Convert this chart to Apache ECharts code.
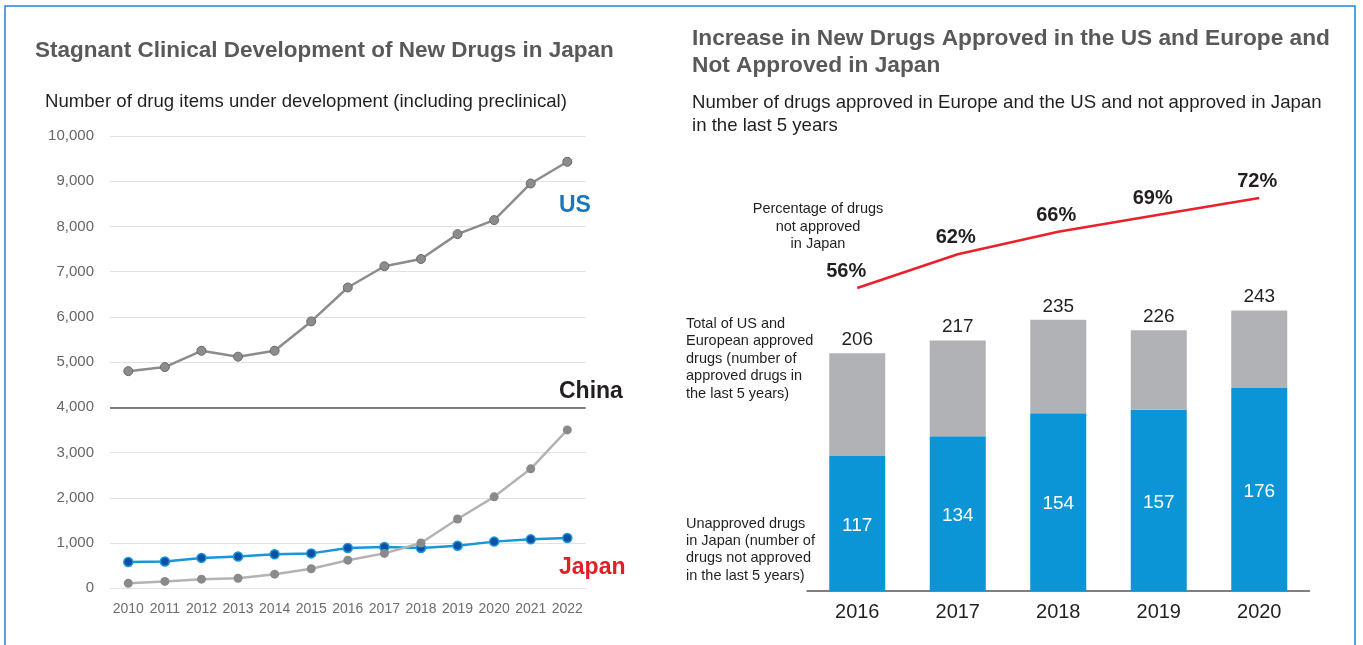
<!DOCTYPE html>
<html>
<head>
<meta charset="utf-8">
<script src="https://cdn.jsdelivr.net/npm/echarts@6/dist/echarts.min.js"></script>
<style>
html,body{margin:0;padding:0;background:#fff;}
#c{width:1363px;height:645px;}
</style>
</head>
<body>
<div id="c"></div>
<script>
// ---- Data ----
const years = ['2010','2011','2012','2013','2014','2015','2016','2017','2018','2019','2020','2021','2022'];
const usPipeline = [4800, 4890, 5250, 5120, 5250, 5900, 6650, 7120, 7280, 7830, 8140, 8950, 9430];
const chinaPipeline = [110, 150, 200, 220, 310, 430, 620, 770, 1000, 1530, 2020, 2640, 3500];
const japanPipeline = [580, 590, 670, 700, 750, 770, 890, 910, 890, 940, 1030, 1080, 1110];
const pipelineTicks = [0, 10000, 1000]; // min, max, interval
const approvalYears = ['2016','2017','2018','2019','2020'];
const totalApproved = [206, 217, 235, 226, 243];
const unapprovedJapan = [117, 134, 154, 157, 176];
const pctUnapproved = [56, 62, 66, 69, 72];

const FONT = '"Liberation Sans", Arial, Helvetica, sans-serif';
const DARK = '#231f20';

function txt(x, y, text, size, opts) {
  opts = opts || {};
  return {
    type: 'text', x: x, y: y, silent: true,
    style: {
      text: text,
      fill: opts.color || DARK,
      font: (opts.bold ? 'bold ' : '') + size + 'px ' + FONT,
      fontSize: size, fontWeight: opts.bold ? 'bold' : 'normal', fontFamily: FONT,
      align: opts.align || 'left', textAlign: opts.align || 'left',
      verticalAlign: opts.valign || 'middle', textVerticalAlign: opts.valign || 'middle',
      lineHeight: opts.lh || undefined
    }
  };
}

const chart = echarts.init(document.getElementById('c'), null, {renderer: 'canvas'});

const option = {
  animation: false,
  textStyle: {fontFamily: FONT},
  grid: [
    {left: 110, top: 136, width: 475.6, height: 452.2},
    {left: 807, top: 302.5, width: 502.5, height: 288.5},
    {left: 807, top: 181.1, width: 502.5, height: 140.6}
  ],
  xAxis: [
    {gridIndex: 0, type: 'category', data: years, boundaryGap: true,
     axisLine: {show: false}, axisTick: {show: false},
     axisLabel: {fontSize: 14, color: '#6d6d6d', margin: 14, fontFamily: FONT, interval: 0, hideOverlap: false}},
    {gridIndex: 1, type: 'category', data: approvalYears,
     axisLine: {show: true, lineStyle: {color: '#555', width: 1.5}}, axisTick: {show: false},
     axisLabel: {fontSize: 20, color: DARK, margin: 11, fontFamily: FONT, interval: 0}},
    {gridIndex: 2, type: 'category', data: approvalYears, show: false}
  ],
  yAxis: [
    {gridIndex: 0, type: 'value', min: pipelineTicks[0], max: pipelineTicks[1], interval: pipelineTicks[2],
     axisLine: {show: false}, axisTick: {show: false},
     splitLine: {lineStyle: {color: '#e2e2e2', width: 1}},
     axisLabel: {fontSize: 15, color: '#666', margin: 16, fontFamily: FONT,
       formatter: v => v.toLocaleString('en-US')}},
    {gridIndex: 1, type: 'value', min: 0, max: 250, show: false, splitLine: {show: false}},
    {gridIndex: 2, type: 'value', min: 50, max: 75, show: false, splitLine: {show: false}}
  ],
  series: [
    {name: 'US', type: 'line', xAxisIndex: 0, yAxisIndex: 0, data: usPipeline,
     symbol: 'circle', symbolSize: 9,
     lineStyle: {color: '#8c8c8c', width: 2.5},
     itemStyle: {color: '#8c8c8c', borderColor: '#6a6a6a', borderWidth: 1},
     markLine: {silent: true, symbol: 'none', label: {show: false},
       lineStyle: {color: '#555', width: 1.5, type: 'solid'},
       data: [{yAxis: 4000}]}},
    {name: 'Japan', type: 'line', xAxisIndex: 0, yAxisIndex: 0, data: japanPipeline,
     symbol: 'circle', symbolSize: 9,
     lineStyle: {color: '#1896d8', width: 2.5},
     itemStyle: {color: '#0d4fa3', borderColor: '#1896d8', borderWidth: 1.5}},
    {name: 'China', type: 'line', xAxisIndex: 0, yAxisIndex: 0, data: chinaPipeline,
     symbol: 'circle', symbolSize: 9,
     lineStyle: {color: '#b3b3b3', width: 2.5},
     itemStyle: {color: '#8a8a8a', borderColor: '#8a8a8a', borderWidth: 0}},
    {name: 'Unapproved in Japan', type: 'bar', xAxisIndex: 1, yAxisIndex: 1, stack: 'tot',
     data: unapprovedJapan, barWidth: 56,
     itemStyle: {color: '#0b95d7'},
     label: {show: true, position: 'inside', offset: [0, 2], color: '#fff', fontSize: 19, fontFamily: FONT}},
    {name: 'Total approved', type: 'bar', xAxisIndex: 1, yAxisIndex: 1, stack: 'tot',
     data: totalApproved.map((t, i) => t - unapprovedJapan[i]), barWidth: 56,
     itemStyle: {color: '#b1b2b6'},
     label: {show: true, position: 'top', distance: 4, color: DARK, fontSize: 19, fontFamily: FONT,
       formatter: p => String(totalApproved[p.dataIndex])}},
    {name: 'Percentage', type: 'line', xAxisIndex: 2, yAxisIndex: 2,
     data: pctUnapproved.map((v, i) => ({value: v,
       label: {offset: i === 0 ? [-11, 0] : (i === 3 ? [-6, 0] : [-2, 0])}})),
     symbol: 'circle', symbolSize: 1, showSymbol: true,
     itemStyle: {color: 'rgba(0,0,0,0)', borderWidth: 0},
     lineStyle: {color: '#e8212a', width: 2.5},
     label: {show: true, position: 'top', distance: 6, color: DARK, fontSize: 20, fontWeight: 'bold',
       fontFamily: FONT, formatter: p => p.value + '%'}}
  ],
  graphic: [
    {type: 'rect', silent: true, shape: {x: 5, y: 6, width: 1350, height: 700},
     style: {fill: 'none', stroke: '#2a82d6', lineWidth: 1.5}},
    txt(35, 51, 'Stagnant Clinical Development of New Drugs in Japan', 22.5, {bold: true, color: '#595959'}),
    txt(45, 102, 'Number of drug items under development (including preclinical)', 18.6),
    txt(692, 39, 'Increase in New Drugs Approved in the US and Europe and', 22.7, {bold: true, color: '#595959'}),
    txt(692, 66, 'Not Approved in Japan', 22.7, {bold: true, color: '#595959'}),
    txt(692, 103, 'Number of drugs approved in Europe and the US and not approved in Japan', 18.6),
    txt(692, 126, 'in the last 5 years', 18.6),
    txt(559, 206, 'US', 23, {bold: true, color: '#1a75bc'}),
    txt(559, 392, 'China', 23, {bold: true, color: DARK}),
    txt(559, 568, 'Japan', 23, {bold: true, color: '#e31e24'}),
    txt(818, 200.5, 'Percentage of drugs\nnot approved\nin Japan', 14.5, {align: 'center', valign: 'top', lh: 17.5}),
    txt(686, 315.2, 'Total of US and\nEuropean approved\ndrugs (number of\napproved drugs in\nthe last 5 years)', 14.5, {valign: 'top', lh: 17.4}),
    txt(686, 515.4, 'Unapproved drugs\nin Japan (number of\ndrugs not approved\nin the last 5 years)', 14.5, {valign: 'top', lh: 17.2})
  ]
};
chart.setOption(option);
</script>
</body>
</html>
